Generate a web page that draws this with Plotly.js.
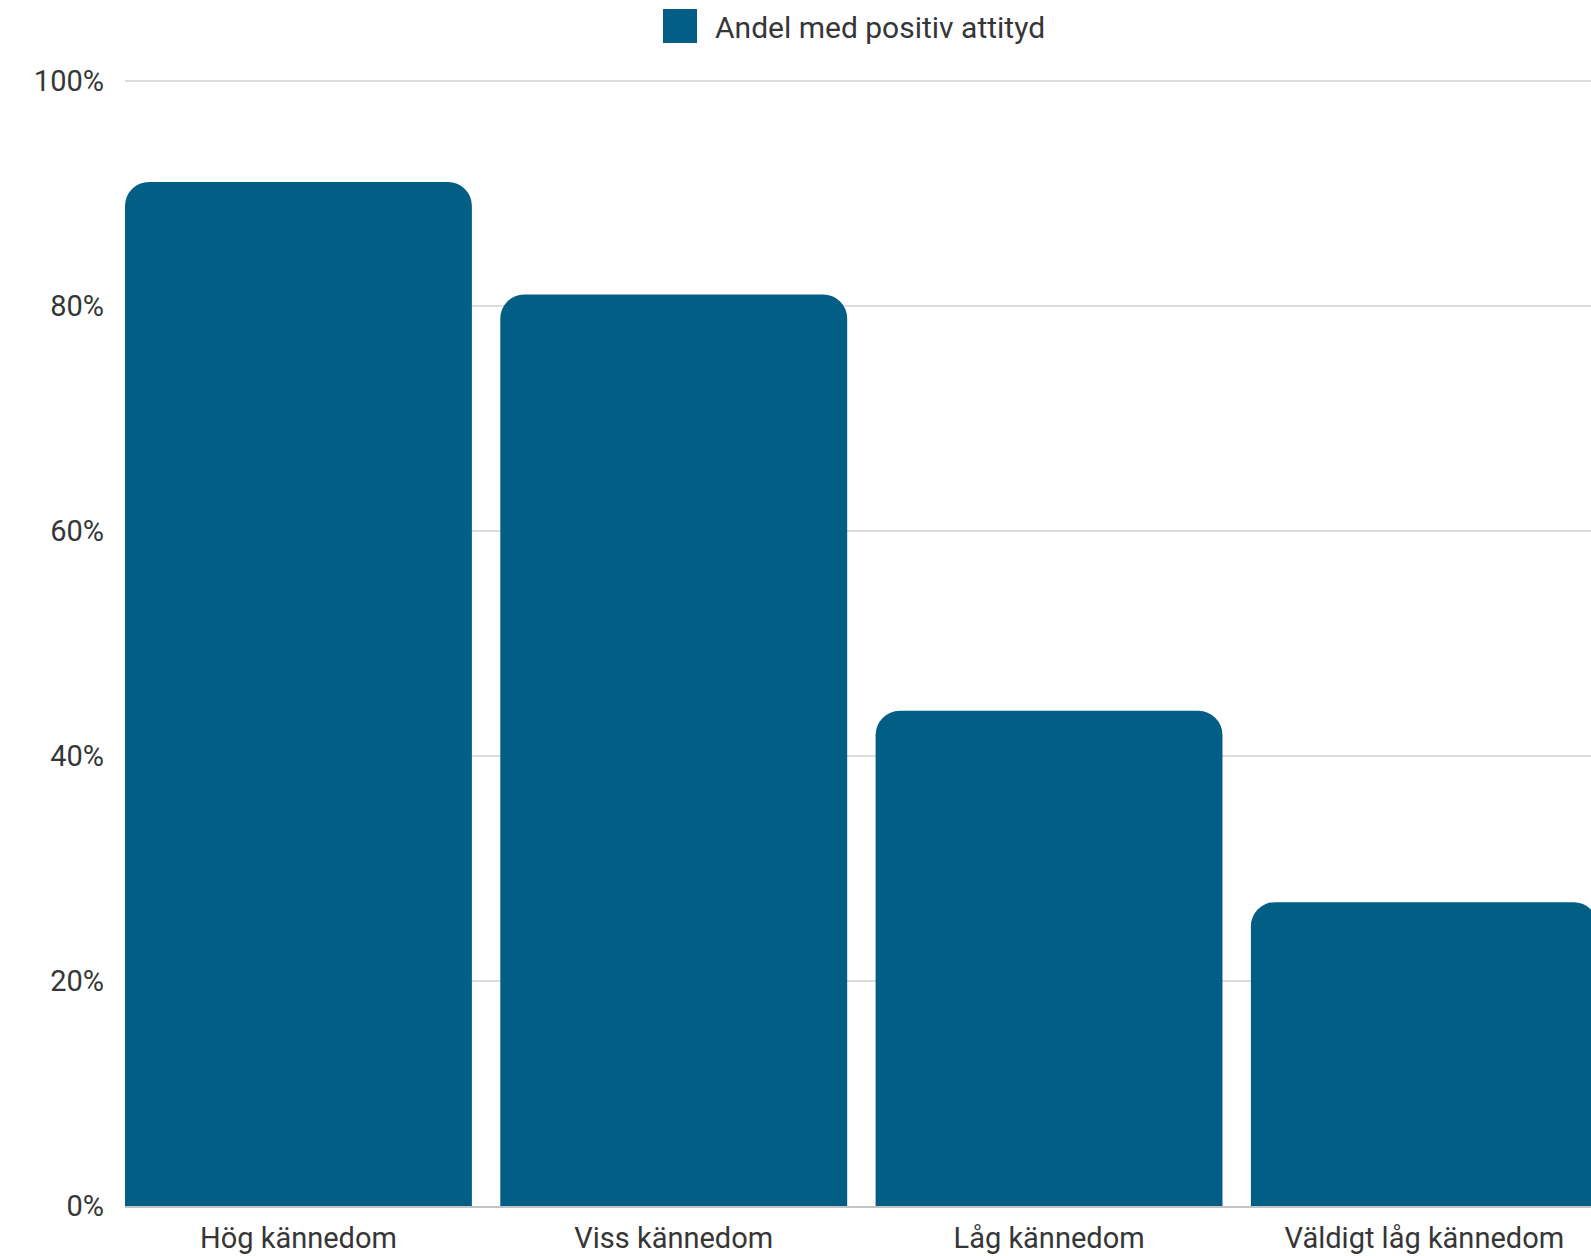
<!DOCTYPE html>
<html>
<head>
<meta charset="utf-8">
<script src="https://cdn.plot.ly/plotly-3.0.1.min.js"></script>
<style>
html,body{margin:0;padding:0;overflow:hidden;background:#fff;}
#chart{width:1640px;height:1256px;}
</style>
</head>
<body>
<div id="chart"></div>
<script>
const categories = ["Hög kännedom", "Viss kännedom", "Låg kännedom", "Väldigt låg kännedom"];
const positiveShare = [0.91, 0.81, 0.44, 0.27];
const seriesName = "Andel med positiv attityd";
const yTickValues = [0, 0.2, 0.4, 0.6, 0.8, 1.0];
const yTickLabels = ["0%", "20%", "40%", "60%", "80%", "100%"];

const barColor = "#035E85";
const textColor = "#363636";
const gap = 0.0757;

const trace = {
  type: "bar",
  x: categories,
  y: positiveShare,
  name: seriesName,
  marker: { color: barColor, cornerradius: 24, line: { width: 0 } },
  showlegend: true,
  hoverinfo: "none"
};

const layout = {
  width: 1640,
  height: 1256,
  margin: { l: 125, r: 28, t: 79, b: 50 },
  paper_bgcolor: "#ffffff",
  plot_bgcolor: "#ffffff",
  font: { family: "Roboto, 'Noto Sans', sans-serif", size: 29, color: textColor },
  bargap: gap,
  showlegend: true,
  legend: {
    orientation: "h",
    xref: "container", yref: "container",
    x: 645 / 1640, xanchor: "left",
    y: 1, yanchor: "top",
    itemwidth: 60,
    font: { size: 30, color: textColor },
    bgcolor: "rgba(0,0,0,0)"
  },
  xaxis: {
    type: "category",
    range: [-0.5 + gap / 2, 3.5],
    showgrid: false,
    showline: true,
    linecolor: "#c4c4c4",
    linewidth: 2,
    ticks: "",
    ticklabelstandoff: 5,
    tickfont: { size: 29, color: textColor },
    fixedrange: true
  },
  yaxis: {
    range: [0, 1.0015],
    tickvals: yTickValues,
    ticktext: yTickLabels,
    showgrid: true,
    gridcolor: "#dcdcdc",
    gridwidth: 2,
    zeroline: false,
    showline: false,
    ticks: "",
    ticklabelstandoff: 20,
    tickfont: { size: 29, color: textColor },
    fixedrange: true
  }
};

Plotly.newPlot("chart", [trace], layout, { staticPlot: true, displayModeBar: false }).then(function () {
  document.querySelectorAll(".legend .legendpoints path").forEach(function (p) {
    p.setAttribute("d", "M17,17H-17V-17H17Z");
  });
});
</script>
</body>
</html>
